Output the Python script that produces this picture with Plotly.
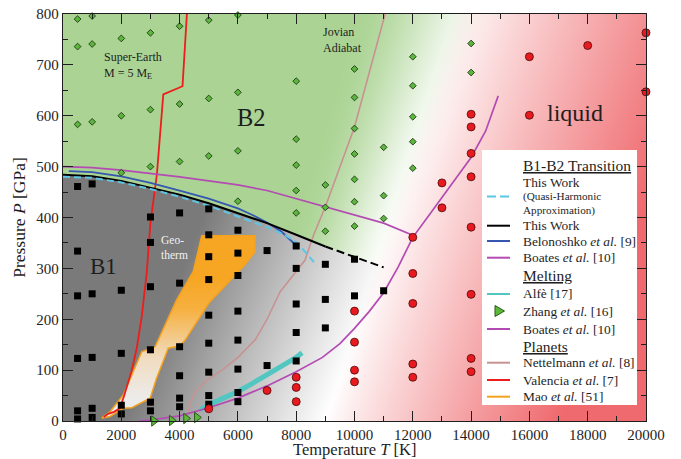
import base64
import struct
import zlib

import numpy as np
import plotly.graph_objects as go

# ---------------- data ----------------
# simulation points, grouped by temperature column (K) -> pressures (GPa)
b2_temps = [500, 1000, 2000, 3000, 4000, 5000, 6000, 8000, 9000, 10000, 11000, 12000, 14000]
b2_pressures = [[790, 736, 583], [796, 741, 588], [752, 600, 488], [763, 612, 500],
                [776, 623, 510], [788, 634, 521], [798, 646, 531, 432],
                [668, 554, 503, 453, 409], [464, 420, 373],
                [692, 636, 575, 525, 475, 431, 383], [538, 443, 398],
                [716, 659, 598, 549, 497], [742, 685]]

b1_temps = [500, 1000, 2000, 3000, 4000, 5000, 6000, 7000, 8000, 9000, 10000, 11000]
b1_pressures = [[461, 334, 246, 123, 20, 4], [466, 250, 125, 25, 7], [257, 133, 31, 14],
                [401, 351, 264, 140, 37, 20], [409, 271, 146, 89, 45, 28],
                [417, 366, 323, 278, 208, 153, 96, 50, 33],
                [375, 330, 286, 216, 159, 102, 56, 38], [335, 109],
                [344, 300, 230, 174, 118], [308, 239, 183], [318, 246], [256]]

liq_temps = [5000, 7000, 8000, 10000, 12000, 13000, 14000, 16000, 18000, 20000]
liq_pressures = [[24], [60], [86, 66, 38], [216, 155, 100, 77], [361, 290, 231, 112, 86],
                 [468, 419], [603, 578, 526, 480, 381, 249, 123, 97], [716, 601], [738],
                 [763, 647]]

# B1-B2 transition, this work (solid part, then extrapolated dashed part)
tw_T = [0, 1000, 2000, 3000, 4000, 5000, 6000, 7000, 8000, 9000]
tw_P = [484, 481, 472, 459, 445, 428, 409, 389, 366, 343]
tw_ext_T = [9000, 10000, 11000]
tw_ext_P = [343, 322, 302]

# B1-B2 transition, quasi-harmonic approximation
qha_T = [0, 1000, 2000, 3000, 4000, 5000, 6000, 7000, 7600, 8000, 8300, 8500, 8700]
qha_P = [480, 478, 469, 456, 441, 423, 402, 381, 366, 352, 333, 320, 306]

# Belonoshko et al. transition
bel_T = [200, 1000, 2000, 3000, 4000, 5000, 6000, 6500, 7000, 7500, 8000]
bel_P = [491, 489, 481, 468, 453, 437, 418, 405, 390, 372, 345]

# Boates et al. transition and melting curves
boa_tr_T = [0, 1000, 2000, 3000, 4000, 5000, 6000, 7000, 8000, 9000, 10000, 11000, 12000]
boa_tr_P = [500, 498, 493, 487, 480, 472, 464, 453, 437, 420, 405, 389, 365]
boa_melt_T = [2600, 3000, 4000, 5000, 6000, 7000, 8000, 8900, 9500, 10000, 10500, 11000,
              11500, 12000, 12500, 13000, 13500, 14000, 14500, 14930]
boa_melt_P = [0, 2, 10, 26, 45, 69, 97, 125, 152, 182, 215, 252, 303, 361, 400, 440, 480,
              518, 570, 639]

# Alfe melting curve
alfe_T = [4700, 5000, 5500, 6000, 6500, 7000, 7500, 8000, 8200]
alfe_P = [22, 32, 45, 58, 74, 90, 108, 125, 134]

# Zhang et al. melting points
zhang_T = [3120, 3730, 4220, 4590]
zhang_P = [0, 1, 5, 7]

# Planetary profiles
nett_T = [4200, 4300, 4400, 4600, 4930, 5500, 6000, 6600, 7000, 7450, 8000, 8300, 8600,
          8900, 9000, 10000, 11050]
nett_P = [0, 20, 40, 62, 80, 102, 125, 160, 200, 254, 293, 316, 366, 405, 421, 578, 800]

val_T = [1400, 1550, 1750, 1950, 2100, 2200, 2350, 2530, 2700, 2870, 3000, 3220, 3440,
         4100, 4250]
val_P = [8, 14, 18, 25, 50, 70, 98, 143, 205, 290, 390, 484, 642, 658, 800]

# Mao et al. geotherm band (closed outline)
mao_T = [1330, 1610, 2070, 2700, 3160, 3900, 4470, 4760, 6590, 6590, 6240, 4990, 4190,
         4010, 3610, 3210, 2990, 2360, 2070, 1610, 1330]
mao_P = [6, 18, 51, 136, 146, 238, 294, 364, 364, 333, 307, 231, 159, 148, 143, 84, 45,
         26, 25, 9, 6]

T_MAX, P_MAX = 20000, 800
FONT = "Liberation Serif"
INK = "#1e1e1e"


def flatten(temps, pressures):
    xs, ys = [], []
    for t, col in zip(temps, pressures):
        xs += [t] * len(col)
        ys += col
    return xs, ys


# ---------------- phase-diagram shading ----------------
def phase_background(nx=583, ny=407):
    t = (np.arange(nx) + 0.5) / nx * T_MAX
    p = P_MAX - (np.arange(ny) + 0.5) / ny * P_MAX
    T, P = np.meshgrid(t, p)

    line_T = np.array(tw_T + tw_ext_T[1:], float)
    line_P = np.array(tw_P + tw_ext_P[1:], float)
    slope = (line_P[-1] - line_P[-2]) / (line_T[-1] - line_T[-2])
    Pl = np.interp(T, line_T, line_P)
    Pl = np.where(T > line_T[-1], line_P[-1] + slope * (T - line_T[-1]), Pl)

    dp = P_MAX / ny
    b1 = np.clip((Pl - P) / dp + 0.5, 0, 1)

    def smooth(x):
        x = np.clip(x, 0, 1)
        return x * x * (3 - 2 * x)

    # B1: dark grey fading to white towards high T / low P
    s = np.clip((T - 2000 - 7 * P) / 7000, 0, 1)
    grey = 122 + (255 - 122) * s
    col_b1 = np.stack([grey, grey, grey], -1)

    # B2: green fading to white towards the melt
    green = np.array([171, 212, 148], float)
    wg = 1 - smooth((T - (6000 + 5 * P)) / (3000 + 2.4 * P))
    col_b2 = 255 * (1 - wg[..., None]) + green * wg[..., None]

    col = b1[..., None] * col_b1 + (1 - b1[..., None]) * col_b2

    # liquid: white to red
    red = np.array([239, 106, 110], float)
    wr = np.clip((T - (9000 + 5.5 * P)) / (8000 + 1.5 * P), 0, 1) ** 0.9
    col = col * (1 - wr[..., None]) + red * wr[..., None]
    return np.clip(col + 0.5, 0, 255).astype(np.uint8)


def png_uri(rgb):
    h, w, _ = rgb.shape
    raw = b"".join(b"\x00" + rgb[i].tobytes() for i in range(h))

    def chunk(tag, data):
        c = struct.pack(">I", len(data)) + tag + data
        return c + struct.pack(">I", zlib.crc32(tag + data) & 0xFFFFFFFF)

    png = (b"\x89PNG\r\n\x1a\n"
           + chunk(b"IHDR", struct.pack(">IIBBBBB", w, h, 8, 2, 0, 0, 0))
           + chunk(b"IDAT", zlib.compress(raw, 9))
           + chunk(b"IEND", b""))
    return "data:image/png;base64," + base64.b64encode(png).decode()


fig = go.Figure()
fig.add_layout_image(dict(source=png_uri(phase_background()), xref="x", yref="y",
                          x=0, y=P_MAX, sizex=T_MAX, sizey=P_MAX, sizing="stretch",
                          xanchor="left", yanchor="top", layer="below"))

# geotherm band
fig.add_trace(go.Scatter(
    x=mao_T, y=mao_P, mode="lines", fill="toself",
    line=dict(color="#f5a21e", width=1.5),
    fillgradient=dict(type="vertical", start=40, stop=280,
                      colorscale=[[0, "#ececec"], [0.35, "#f1dcc0"],
                                  [0.75, "#f6b040"], [1, "#f6a623"]]),
    showlegend=False, hoverinfo="skip"))


def curve(x, y, color, width, dash="solid"):
    fig.add_trace(go.Scatter(x=x, y=y, mode="lines", showlegend=False,
                             line=dict(color=color, width=width, dash=dash)))


C_NETT, C_VAL, C_ALFE = "#c99292", "#ee1c1c", "#52c6c0"
C_BOA, C_BEL, C_QHA = "#b34bb3", "#3557b0", "#5cc6e4"

curve(nett_T, nett_P, C_NETT, 1.6)
curve(val_T, val_P, C_VAL, 1.8)
curve(alfe_T, alfe_P, C_ALFE, 5)
curve(boa_melt_T, boa_melt_P, C_BOA, 1.7)
curve(boa_tr_T, boa_tr_P, C_BOA, 1.7)
curve(bel_T, bel_P, C_BEL, 1.8)
curve(tw_T, tw_P, "black", 2)
curve(tw_ext_T, tw_ext_P, "black", 2, "8px,4px")
curve(qha_T, qha_P, C_QHA, 2, "7px,4px")

sx, sy = flatten(b1_temps, b1_pressures)
fig.add_trace(go.Scatter(x=sx, y=sy, mode="markers", showlegend=False, cliponaxis=False,
                         marker=dict(symbol="square", size=7, color="black")))
dx, dy = flatten(b2_temps, b2_pressures)
fig.add_trace(go.Scatter(x=dx, y=dy, mode="markers", showlegend=False, cliponaxis=False,
                         marker=dict(symbol="diamond", size=5.2, color="#5cb63e",
                                     line=dict(color="#1e3a14", width=0.9))))
lx, ly = flatten(liq_temps, liq_pressures)
fig.add_trace(go.Scatter(x=lx, y=ly, mode="markers", showlegend=False, cliponaxis=False,
                         marker=dict(symbol="circle", size=8, color="#e8191f",
                                     line=dict(color="#4a0a0a", width=0.8))))
fig.add_trace(go.Scatter(x=zhang_T, y=zhang_P, mode="markers", showlegend=False,
                         cliponaxis=False,
                         marker=dict(symbol="triangle-right", size=9, color="#5cb83a",
                                     line=dict(color="#2a5a1a", width=1))))

# ---------------- labels on the diagram ----------------
def label(x, y, text, size, color=INK, anchor="left"):
    fig.add_annotation(x=x, y=y, text=text, showarrow=False, xanchor=anchor,
                       yanchor="middle", align="left",
                       font=dict(family=FONT, size=size, color=color))


label(6473, 597, "B2", 24.5, anchor="center")
label(1383, 303, "B1", 23, anchor="center")
label(17564, 605, "liquid", 24, anchor="center")
label(1327, 699, "Super-Earth<br>M = 5 M<sub>E</sub>", 12)
label(8840, 748, "Jovian<br>Adiabat", 12)
label(3293, 341, "Geo-<br>therm", 11.5, color="#f2f2f2")

# ---------------- legend box ----------------
PX0, PX1, PY0, PY1 = 63, 646, 14, 421


def xp(px):
    return (px - PX0) / (PX1 - PX0)


def yp(py):
    return (PY1 - py) / (PY1 - PY0)


fig.add_shape(type="rect", xref="paper", yref="paper", x0=xp(482), x1=xp(637),
              y0=yp(405), y1=yp(150), fillcolor="white", line=dict(width=0),
              layer="above")

ITEM, SMALL, HEAD = 13.4, 11.2, 15.5
legend_rows = [
    (165, "<u>B1-B2 Transition</u>", HEAD),
    (182.7, "This Work", ITEM),
    (196.5, "(Quasi-Harmonic", SMALL),
    (210, "Approximation)", SMALL),
    (225.7, "This Work", ITEM),
    (241, "Belonoshko <i>et al.</i> [9]", ITEM),
    (257.7, "Boates <i>et al.</i> [10]", ITEM),
    (275, "<u>Melting</u>", HEAD),
    (294, "Alfè [17]", ITEM),
    (311, "Zhang <i>et al.</i> [16]", ITEM),
    (329, "Boates <i>et al.</i> [10]", ITEM),
    (346, "<u>Planets</u>", HEAD),
    (362.7, "Nettelmann <i>et al.</i> [8]", ITEM),
    (380, "Valencia <i>et al.</i> [7]", ITEM),
    (396.7, "Mao <i>et al.</i> [51]", ITEM),
]
for py, text, size in legend_rows:
    fig.add_annotation(x=xp(521), y=yp(py), xref="paper", yref="paper", text=text,
                       showarrow=False, xanchor="left", yanchor="middle",
                       font=dict(family=FONT, size=size, color=INK))

legend_lines = [
    (196.5, C_QHA, 2, "9px,4px"),
    (225.7, "black", 2, "solid"),
    (241, C_BEL, 2, "solid"),
    (257.7, C_BOA, 2, "solid"),
    (294, C_ALFE, 2, "solid"),
    (329, C_BOA, 2, "solid"),
    (362.7, C_NETT, 2, "solid"),
    (380, C_VAL, 2, "solid"),
    (396.7, "#f5a21e", 2, "solid"),
]
for py, color, width, dash in legend_lines:
    fig.add_shape(type="line", xref="paper", yref="paper", x0=xp(487), x1=xp(510),
                  y0=yp(py), y1=yp(py), line=dict(color=color, width=width, dash=dash),
                  layer="above")

# Zhang glyph
tri = "M {},{} L {},{} L {},{} Z".format(xp(495), yp(305.5), xp(504.5), yp(311),
                                         xp(495), yp(316.5))
fig.add_shape(type="path", xref="paper", yref="paper", path=tri, fillcolor="#5cb83a",
              line=dict(color="#2a5a1a", width=1), layer="above")

# x-axis title, centred just below the tick labels
fig.add_annotation(x=0.5, y=yp(449.5), xref="paper", yref="paper",
                   text="Temperature <i>T</i> [K]", showarrow=False, borderpad=0,
                   xanchor="center", yanchor="middle",
                   font=dict(family=FONT, size=16.5, color=INK))

# ---------------- axes ----------------
axis_common = dict(
    showgrid=False, zeroline=False, showline=True, linecolor=INK, linewidth=1.3,
    mirror="allticks", ticks="inside", ticklen=10, tickwidth=1.2, tickcolor=INK,
    tickformat="d", automargin=False,
    tickfont=dict(family=FONT, size=15, color=INK),
)
fig.update_xaxes(range=[0, T_MAX], tick0=0, dtick=2000,
                 minor=dict(dtick=1000, ticks="inside", ticklen=5, tickcolor=INK,
                            tickwidth=1.2, showgrid=False),
                 **axis_common)
fig.update_yaxes(range=[0, P_MAX], tick0=0, dtick=100,
                 minor=dict(dtick=50, ticks="inside", ticklen=5, tickcolor=INK,
                            tickwidth=1.2, showgrid=False),
                 title=dict(text="Pressure <i>P</i> [GPa]", standoff=6,
                            font=dict(family=FONT, size=17.5, color=INK)),
                 **axis_common)

fig.update_layout(width=681, height=459, autosize=False,
                  margin=dict(l=63, r=35, t=14, b=38),
                  paper_bgcolor="white", plot_bgcolor="white", showlegend=False)

fig.write_html("out.html")
